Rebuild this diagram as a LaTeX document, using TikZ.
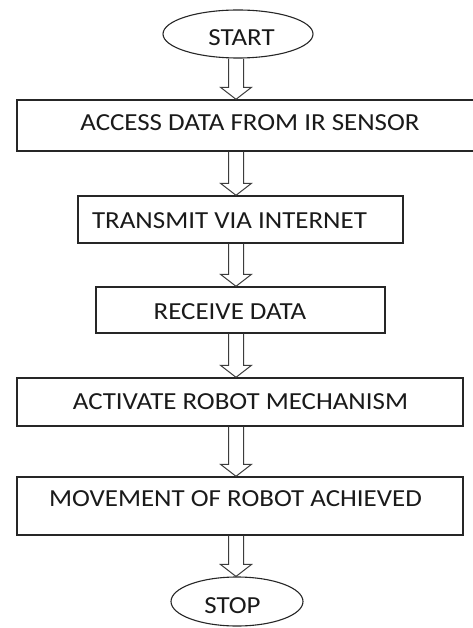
\documentclass[tikz,border=0pt]{standalone}
\usepackage{fontspec}
\setmainfont{Carlito}
\usetikzlibrary{shapes.geometric,calc}
\definecolor{linec}{HTML}{262626}
\definecolor{arrc}{HTML}{3C3C3C}
\definecolor{textc}{HTML}{1A1A1A}
\newcommand{\wide}[1]{\scalebox{1.1}[1]{#1}}
\newcommand{\blockarrow}[2]{%
  \draw[barrow] ($(#1.south -| ax)+(-7.5,0)$) -- ($(#2.north -| ax)+(-7.5,-12)$) -- ++(-8,0)
    -- ($(#2.north -| ax)$) -- ($(#2.north -| ax)+(15.5,-12)$) -- ++(-8,0)
    -- ($(#1.south -| ax)+(7.5,0)$);}
\begin{document}
\begin{tikzpicture}[x=1pt,y=-1pt,
  box/.style={draw=linec, line width=1.4pt, rectangle, inner sep=0pt},
  term/.style={draw=linec, line width=1.1pt, ellipse, inner sep=0pt},
  txt/.style={font=\fontsize{24.5}{28}\selectfont, text=textc, inner sep=0pt},
  barrow/.style={draw=arrc, line width=1pt, line join=miter}]
\useasboundingbox[fill=white] (0,0) rectangle (473,628);
\coordinate (ax) at (236,0);
\node[term, minimum width=150pt, minimum height=48pt,
  label={[txt,xshift=3.5pt,yshift=-3.5pt]center:\wide{START}}] (start) at (238,34) {};
\node[box, minimum width=463pt, minimum height=51pt,
  label={[txt,xshift=1.5pt,yshift=3pt]center:\wide{ACCESS DATA FROM IR SENSOR}}] (access) at (248.5,125.5) {};
\node[box, minimum width=325pt, minimum height=47pt,
  label={[txt,xshift=-11pt,yshift=-1pt]center:\wide{TRANSMIT VIA INTERNET}}] (transmit) at (240.5,219.5) {};
\node[box, minimum width=289pt, minimum height=46pt,
  label={[txt,xshift=-10.5pt,yshift=-1.5pt]center:\wide{RECEIVE DATA}}] (receive) at (240.5,310) {};
\node[box, minimum width=446pt, minimum height=48pt,
  label={[txt,xshift=0.5pt]center:\wide{ACTIVATE ROBOT MECHANISM}}] (activate) at (240,402) {};
\node[box, minimum width=446pt, minimum height=58pt,
  label={[txt,xshift=-4.5pt,yshift=7.5pt]center:\wide{MOVEMENT OF ROBOT ACHIEVED}}] (movement) at (240,506) {};
\node[term, minimum width=132pt, minimum height=49pt,
  label={[txt,xshift=-4.5pt,yshift=-4.5pt]center:\wide{STOP}}] (stop) at (237,601.5) {};
\blockarrow{start}{access}
\blockarrow{access}{transmit}
\blockarrow{transmit}{receive}
\blockarrow{receive}{activate}
\blockarrow{activate}{movement}
\blockarrow{movement}{stop}
\end{tikzpicture}
\end{document}
